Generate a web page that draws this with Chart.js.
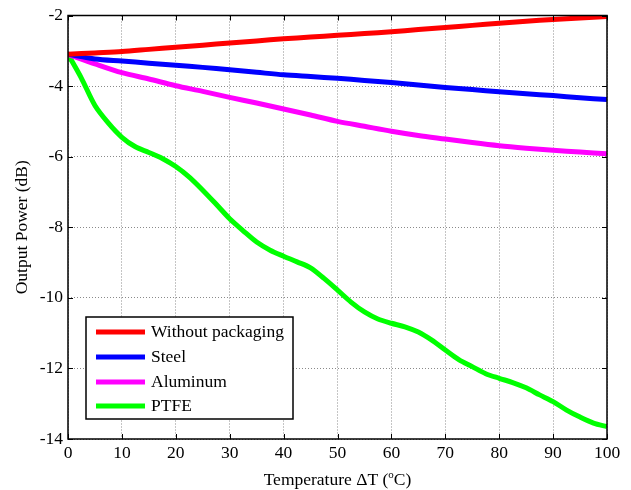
<!DOCTYPE html>
<html><head><meta charset="utf-8">
<script src="https://cdn.jsdelivr.net/npm/chart.js@4/dist/chart.umd.min.js"></script>
<style>html,body{margin:0;padding:0;background:#fff}#wrap{width:631px;height:490px}</style>
</head><body><div id="wrap"><canvas id="c" width="631" height="490"></canvas></div>
<script>
const seriesLabels = ['Without packaging', 'Steel', 'Aluminum', 'PTFE'];
const seriesColors = ['#FF0000', '#0000FF', '#FF00FF', '#00FF00'];
const xCoarse = [0,5,10,15,20,25,30,35,40,45,50,55,60,65,70,75,80,85,90,95,100];
const xFine = [0,2.5,5,7.5,10,12.5,15,17.5,20,22.5,25,27.5,30,32.5,35,37.5,40,42.5,45,47.5,50,52.5,55,57.5,60,62.5,65,67.5,70,72.5,75,77.5,80,82.5,85,87.5,90,92.5,95,97.5,100];
const withoutPackaging = [-3.10,-3.06,-3.02,-2.96,-2.90,-2.84,-2.78,-2.72,-2.66,-2.61,-2.56,-2.51,-2.46,-2.40,-2.34,-2.28,-2.22,-2.16,-2.11,-2.07,-2.03];
const steel = [-3.10,-3.23,-3.29,-3.35,-3.41,-3.47,-3.54,-3.61,-3.68,-3.73,-3.78,-3.84,-3.90,-3.97,-4.04,-4.10,-4.16,-4.22,-4.27,-4.33,-4.38];
const aluminum = [-3.10,-3.37,-3.62,-3.80,-3.99,-4.15,-4.32,-4.48,-4.65,-4.82,-5.00,-5.14,-5.28,-5.40,-5.50,-5.60,-5.69,-5.76,-5.82,-5.87,-5.92];
const ptfe = [-3.10,-3.78,-4.55,-5.05,-5.45,-5.72,-5.88,-6.05,-6.28,-6.58,-6.95,-7.35,-7.76,-8.10,-8.42,-8.65,-8.82,-8.98,-9.15,-9.45,-9.78,-10.12,-10.40,-10.60,-10.72,-10.82,-10.97,-11.20,-11.48,-11.75,-11.95,-12.15,-12.28,-12.40,-12.55,-12.75,-12.94,-13.18,-13.38,-13.55,-13.65];
const xTicks = [0,10,20,30,40,50,60,70,80,90,100];
const yTicks = [-14,-12,-10,-8,-6,-4,-2];
const xTitleParts = ['Temperature \u0394T (', 'o', 'C)'];
const yTitle = 'Output Power (dB)';

const FONT = '"Liberation Serif", "Times New Roman", serif';
const FS = 17.5;
const pts = (xs, ys) => xs.map((x, i) => ({x: x, y: ys[i]}));
const seriesData = [pts(xCoarse, withoutPackaging), pts(xCoarse, steel), pts(xCoarse, aluminum), pts(xFine, ptfe)];

const legendPlugin = {
  id: 'insideLegend',
  afterDatasetsDraw(chart) {
    const ctx = chart.ctx;
    ctx.save();
    ctx.fillStyle = '#fff';
    ctx.fillRect(86, 317, 207, 102);
    ctx.strokeStyle = '#000';
    ctx.lineWidth = 1.5;
    ctx.strokeRect(86, 317, 207, 102);
    const rows = [332, 357, 382, 406];
    ctx.font = FS + 'px ' + FONT;
    ctx.textBaseline = 'middle';
    ctx.textAlign = 'left';
    chart.data.datasets.forEach((ds, i) => {
      ctx.strokeStyle = ds.borderColor;
      ctx.lineWidth = 5;
      ctx.beginPath();
      ctx.moveTo(96, rows[i]);
      ctx.lineTo(145, rows[i]);
      ctx.stroke();
      ctx.fillStyle = '#000';
      ctx.fillText(ds.label, 151, rows[i]);
    });
    ctx.restore();
  }
};

const framePlugin = {
  id: 'frame',
  afterDraw(chart) {
    const ctx = chart.ctx, a = chart.chartArea, xs = chart.scales.x, ys = chart.scales.y;
    ctx.save();
    ctx.strokeStyle = '#000';
    ctx.lineWidth = 1;
    ctx.beginPath();
    xTicks.forEach(v => {
      const p = Math.round(xs.getPixelForValue(v)) + 0.5;
      ctx.moveTo(p, a.bottom); ctx.lineTo(p, a.bottom - 5);
      ctx.moveTo(p, a.top); ctx.lineTo(p, a.top + 5);
    });
    yTicks.forEach(v => {
      const p = Math.round(ys.getPixelForValue(v)) + 0.5;
      ctx.moveTo(a.left, p); ctx.lineTo(a.left + 5, p);
      ctx.moveTo(a.right, p); ctx.lineTo(a.right - 5, p);
    });
    ctx.stroke();
    ctx.lineWidth = 1.5;
    ctx.strokeRect(a.left, a.top, a.right - a.left, a.bottom - a.top);
    ctx.fillStyle = '#000';
    ctx.textBaseline = 'alphabetic';
    ctx.textAlign = 'left';
    const big = FS + 'px ' + FONT, small = '11px ' + FONT;
    ctx.font = big;
    const w1 = ctx.measureText(xTitleParts[0]).width;
    const w3 = ctx.measureText(xTitleParts[2]).width;
    ctx.font = small;
    const w2 = ctx.measureText(xTitleParts[1]).width;
    const total = w1 + w2 + w3;
    let x0 = (a.left + a.right) / 2 - total / 2;
    const base = 485;
    ctx.font = big;
    ctx.fillText(xTitleParts[0], x0, base);
    ctx.font = small;
    ctx.fillText(xTitleParts[1], x0 + w1, base - 7);
    ctx.font = big;
    ctx.fillText(xTitleParts[2], x0 + w1 + w2, base);
    ctx.restore();
  }
};

new Chart(document.getElementById('c'), {
  type: 'line',
  data: {
    datasets: seriesLabels.map((l, i) => ({
      label: l,
      data: seriesData[i],
      borderColor: seriesColors[i],
      backgroundColor: seriesColors[i],
      borderWidth: 5,
      pointRadius: 0,
      tension: 0.3,
      fill: false
    }))
  },
  options: {
    responsive: false,
    animation: false,
    devicePixelRatio: 1,
    layout: {padding: {top: 14, right: 24, left: 0, bottom: 0}},
    plugins: {legend: {display: false}, tooltip: {enabled: false}},
    scales: {
      x: {
        type: 'linear', min: 0, max: 100,
        afterBuildTicks: s => { s.ticks = xTicks.map(v => ({value: v})); },
        afterFit: s => { s.height = 51; },
        ticks: {font: {family: FONT, size: FS}, color: '#000', padding: 4, maxRotation: 0},
        grid: {color: '#8a8a8a', lineWidth: 1, drawTicks: false},
        border: {display: false, dash: [1, 2]}
      },
      y: {
        type: 'linear', min: -14, max: -2,
        afterBuildTicks: s => { s.ticks = yTicks.map(v => ({value: v})); },
        afterFit: s => { s.width = 68; },
        ticks: {font: {family: FONT, size: FS}, color: '#000', padding: 5},
        grid: {color: '#8a8a8a', lineWidth: 1, drawTicks: false},
        border: {display: false, dash: [1, 2]},
        title: {display: true, text: yTitle, font: {family: FONT, size: FS}, color: '#000', padding: {top: 12, bottom: 0}}
      }
    }
  },
  plugins: [legendPlugin, framePlugin]
});
</script>
</body></html>
